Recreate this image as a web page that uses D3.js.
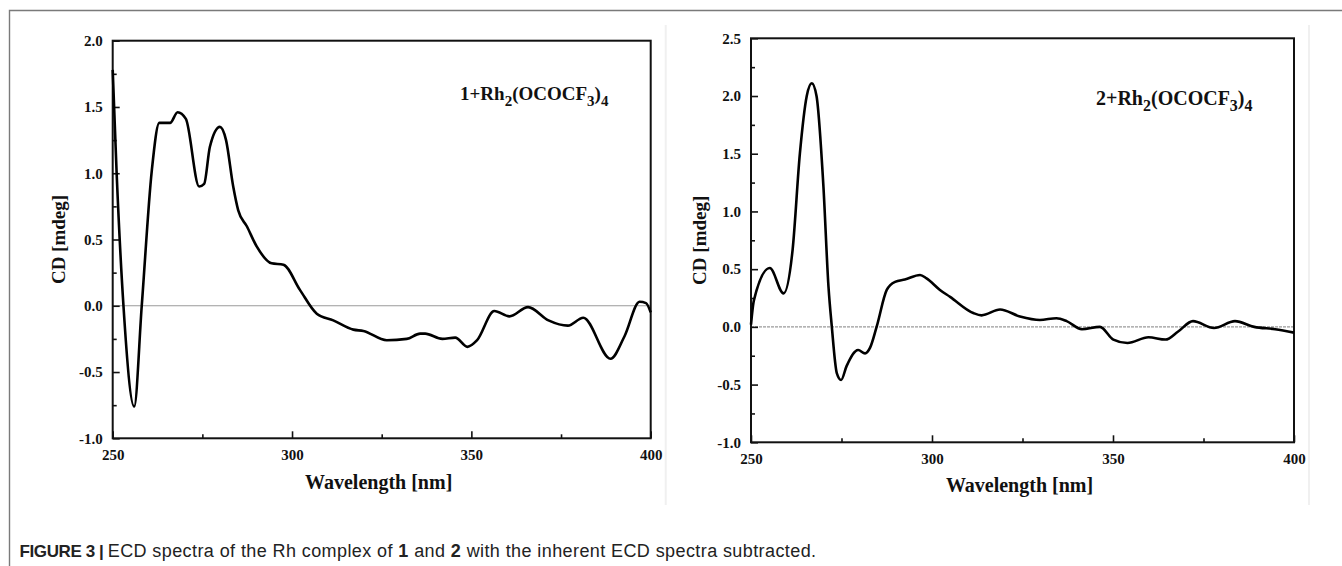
<!DOCTYPE html>
<html>
<head>
<meta charset="utf-8">
<script src="https://cdn.jsdelivr.net/npm/d3@7"></script>
<style>
    body { margin: 0; background: #fff; }
    .serif { font-family: "Liberation Serif", "Times New Roman", serif; font-weight: bold; fill: #111; }
    .caption { font-family: "Liberation Sans", Arial, sans-serif; fill: #222; }
</style>
</head>
<body>
<svg id="fig" width="1342" height="566"></svg>
<script>
// 1 + Rh2(OCOCF3)4
const wl1 = [250, 251.1, 253, 256, 258.1, 260.9, 263, 266, 268.1, 270.4, 274.1, 275.5, 277.1, 279.9, 281.6, 283.6, 285, 287.4, 290.1, 294.3, 297.6, 302.2, 306.9, 311.5, 317.1, 319.9, 326.4, 332, 335.7, 337.1, 341.9, 345.5, 348.9, 351.6, 356.4, 360.6, 365.8, 371.5, 376.9, 381.2, 388.8, 392.7, 396.9, 398.7, 400];
const cd1 = [1.78, 1.0, 0, -0.76, 0, 1.02, 1.38, 1.38, 1.46, 1.41, 0.90, 0.92, 1.20, 1.35, 1.25, 0.90, 0.72, 0.60, 0.45, 0.32, 0.31, 0.12, -0.06, -0.11, -0.18, -0.19, -0.26, -0.25, -0.21, -0.21, -0.25, -0.24, -0.31, -0.26, -0.04, -0.08, -0.01, -0.11, -0.15, -0.09, -0.40, -0.23, 0.03, 0.02, -0.05];

// 2 + Rh2(OCOCF3)4
const wl2 = [250, 250.8, 255.2, 259, 261.5, 263.5, 265.4, 266.8, 268.1, 270, 271.4, 272.3, 273.7, 274.9, 276.4, 279.6, 281.5, 282.9, 284.7, 287.5, 289.8, 292.5, 296.7, 298.5, 302.2, 305, 311.4, 313.7, 318.8, 324.3, 329.8, 334.4, 337.2, 341.4, 346.4, 350.1, 354, 359.8, 364.5, 368, 372.1, 377.9, 383.7, 389, 394.8, 400];
const cd2 = [0.02, 0.23, 0.51, 0.29, 0.67, 1.5, 2.0, 2.11, 2.0, 1.22, 0.35, 0.01, -0.40, -0.46, -0.34, -0.20, -0.23, -0.18, 0.0, 0.32, 0.39, 0.41, 0.45, 0.42, 0.32, 0.26, 0.12, 0.10, 0.15, 0.09, 0.06, 0.075, 0.05, -0.02, 0.0, -0.11, -0.14, -0.09, -0.11, -0.04, 0.05, -0.01, 0.05, 0.0, -0.02, -0.05];

// tick values
const xTicks = [250, 300, 350, 400];
const xMinorTicks = [275, 325, 375];
const yTicks1 = [-1.0, -0.5, 0.0, 0.5, 1.0, 1.5, 2.0];
const yMinor1 = [-0.75, -0.25, 0.25, 0.75, 1.25, 1.75];
const yTicks2 = [-1.0, -0.5, 0.0, 0.5, 1.0, 1.5, 2.0, 2.5];
const yMinor2 = [-0.75, -0.25, 0.25, 0.75, 1.25, 1.75, 2.25];

const svg = d3.select("#fig");

// figure box (top + left rule)
svg.append("path").attr("d", "M 9.5 566 V 10.5 H 1342")
    .attr("fill", "none").attr("stroke", "#7a7a7a").attr("stroke-width", 1.4);

const panels = [
    { id: "p1", wl: wl1, cd: cd1, yTicks: yTicks1, yMinor: yMinor1, yDomain: [-1, 2],
      left: 112.7, right: 650.7, top: 40.7, bottom: 438.3,
      label: "1", labelX: 460, labelY: 100, labelSize: 19, yTitleX: 58, xTitleY: 489 },
    { id: "p2", wl: wl2, cd: cd2, yTicks: yTicks2, yMinor: yMinor2, yDomain: [-1, 2.5],
      left: 751, right: 1294, top: 38.3, bottom: 442.3,
      label: "2", labelX: 1096, labelY: 105, labelSize: 20, yTitleX: 699, xTitleY: 492 }
];

const fmt = d => d.toFixed(1);

for (const p of panels) {
    const x = d3.scaleLinear().domain([250, 400]).range([p.left, p.right]);
    const y = d3.scaleLinear().domain(p.yDomain).range([p.bottom, p.top]);
    const g = svg.append("g").attr("id", p.id);

    // faint scan edge to the right of each picture
    g.append("line").attr("x1", p.right + 15).attr("x2", p.right + 15)
        .attr("y1", 25).attr("y2", 505).attr("stroke", "#f0f0f0").attr("stroke-width", 2);

    // zero line
    g.append("line")
        .attr("x1", x(250)).attr("x2", x(400))
        .attr("y1", y(0)).attr("y2", y(0))
        .attr("stroke", "#9a9a9a").attr("stroke-width", 1.2)
        .attr("stroke-dasharray", p.id === "p2" ? "3,1" : null);

    // axes, ticks pointing inward
    g.append("g").attr("transform", `translate(0,${p.bottom})`)
        .call(d3.axisBottom(x).tickValues(xTicks).tickSize(-7).tickPadding(11).tickFormat(d3.format("d")));
    g.append("g").attr("transform", `translate(0,${p.bottom})`)
        .call(d3.axisBottom(x).tickValues(xMinorTicks).tickSize(-4).tickFormat(""));
    g.append("g").attr("transform", `translate(${p.left},0)`)
        .call(d3.axisLeft(y).tickValues(p.yTicks).tickSize(-7).tickPadding(10).tickFormat(fmt));
    g.append("g").attr("transform", `translate(${p.left},0)`)
        .call(d3.axisLeft(y).tickValues(p.yMinor).tickSize(-4).tickFormat(""));

    g.selectAll(".domain").remove();
    g.selectAll(".tick line").attr("stroke", "#111").attr("stroke-width", 1.6);
    g.selectAll(".tick text").attr("class", "serif").style("font-size", "15px");

    // frame
    g.append("rect")
        .attr("x", p.left).attr("y", p.top)
        .attr("width", p.right - p.left).attr("height", p.bottom - p.top)
        .attr("fill", "none").attr("stroke", "#111").attr("stroke-width", 2);

    // spectrum
    const line = d3.line()
        .x((d, i) => x(p.wl[i]))
        .y(d => y(d))
        .curve(d3.curveMonotoneX);
    g.append("path").datum(p.cd)
        .attr("d", line)
        .attr("fill", "none").attr("stroke", "#000")
        .attr("stroke-width", 2.6).attr("stroke-linejoin", "round");

    // axis titles
    g.append("text").attr("class", "serif")
        .attr("x", (p.left + p.right) / 2 - 3).attr("y", p.xTitleY)
        .attr("text-anchor", "middle").style("font-size", "20px")
        .text("Wavelength [nm]");
    g.append("text").attr("class", "serif")
        .attr("transform", `translate(${p.yTitleX},${(p.top + p.bottom) / 2}) rotate(-90)`)
        .attr("text-anchor", "middle").attr("dy", "0.35em").style("font-size", "19px")
        .text("CD [mdeg]");

    // compound label with subscripts
    const t = g.append("text").attr("class", "serif")
        .attr("x", p.labelX).attr("y", p.labelY).style("font-size", p.labelSize + "px");
    const parts = [[p.label + "+Rh", 0], ["2", 1], ["(OCOCF", 0], ["3", 1], [")", 0], ["4", 1]];
    let shifted = false;
    for (const [txt, sub] of parts) {
        const dy = sub && !shifted ? 6 : (!sub && shifted ? -6 : 0);
        shifted = !!sub;
        t.append("tspan").attr("dy", dy)
            .style("font-size", (sub ? p.labelSize - 4 : p.labelSize) + "px").text(txt);
    }
}

// caption
const cap = svg.append("text").attr("class", "caption")
    .attr("x", 19.5).attr("y", 556.5).style("font-size", "18px");
cap.append("tspan").attr("font-weight", "bold").style("font-size", "17px")
    .style("letter-spacing", "-0.4px").text("FIGURE 3 | ");
const capParts = [
    ["ECD spectra of the Rh complex of ", false],
    ["1", true], [" and ", false], ["2", true],
    [" with the inherent ECD spectra subtracted.", false]
];
for (const [txt, bold] of capParts) {
    cap.append("tspan").attr("class", "capbody")
        .attr("font-weight", bold ? "bold" : null).text(txt);
}
// stretch the caption body so it ends where the printed one does
const capLen = cap.node().getComputedTextLength();
const nChars = capParts.map(d => d[0]).join("").length;
const spacing = (797 - capLen) / nChars;
cap.selectAll(".capbody").style("letter-spacing", spacing + "px");
</script>
</body>
</html>
